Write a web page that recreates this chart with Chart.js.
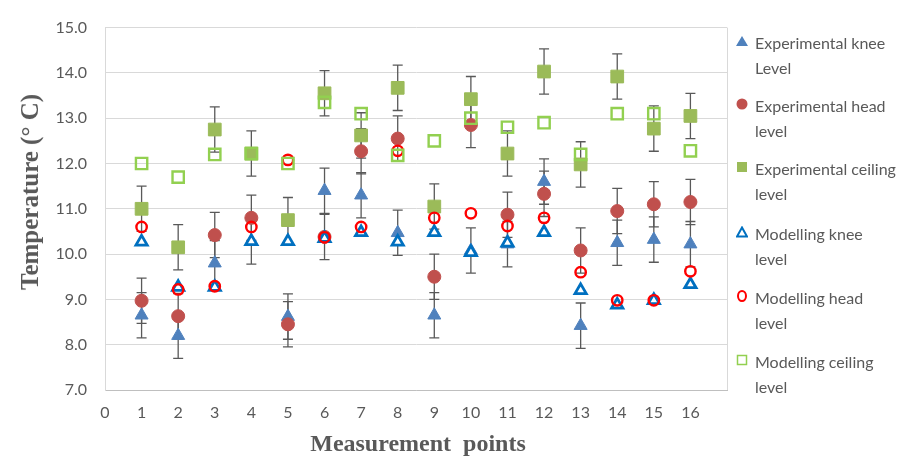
<!DOCTYPE html>
<html>
<head>
<meta charset="utf-8">
<script src="https://cdn.jsdelivr.net/npm/chart.js@4.4.1/dist/chart.umd.min.js"></script>
<style>
  html, body { margin: 0; padding: 0; background: #fff; }
  #wrap { position: relative; width: 915px; height: 459px; overflow: hidden; }
  #c { position: absolute; left: 0; top: 0; }
  .ytitle { position: absolute; left: 30px; top: 192px; transform: translate(-50%, -50%) rotate(-90deg);
    font-family: "Liberation Serif", serif; font-weight: bold; font-size: 25px; color: #595959; white-space: nowrap; }
  .xtitle { position: absolute; left: 418px; top: 443px; transform: translate(-50%, -50%);
    font-family: "Liberation Serif", serif; font-weight: bold; font-size: 24px; color: #595959; white-space: pre; }
  .leg { position: absolute; left: 755px; font-family: Lato, sans-serif; font-size: 16px; line-height: 25px; color: #595959; white-space: nowrap; }
  .leg svg { position: absolute; left: -19px; top: 5px; }
</style>
</head>
<body>
<div id="wrap">
  <canvas id="c" width="915" height="459"></canvas>
  <div class="ytitle">Temperature (° C)</div>
  <div class="xtitle">Measurement  points</div>
  <div id="legend"></div>
</div>
<script>
// ---- data ----
const categories = [1, 2, 3, 4, 5, 6, 7, 8, 9, 10, 11, 12, 13, 14, 15, 16];
const expKnee    = [8.65, 8.20, 9.80, 10.28, 8.62, 11.40, 11.30, 10.47, 8.65, 10.08, 10.22, 11.60, 8.42, 10.25, 10.32, 10.22];
const expHead    = [8.97, 8.63, 10.42, 10.80, 8.45, 10.38, 12.27, 12.55, 9.50, 12.85, 10.87, 11.33, 10.08, 10.95, 11.10, 11.15];
const expCeiling = [11.00, 10.15, 12.75, 12.22, 10.75, 13.55, 12.62, 13.67, 11.05, 13.42, 12.22, 14.03, 11.98, 13.92, 12.77, 13.05];
const modKnee    = [10.27, 9.27, 9.27, 10.28, 10.28, 10.35, 10.48, 10.27, 10.48, 10.04, 10.25, 10.48, 9.20, 8.88, 8.98, 9.33];
const modHead    = [10.60, 9.22, 9.29, 10.60, 12.08, 10.37, 10.60, 12.28, 10.80, 10.90, 10.62, 10.80, 9.60, 8.98, 8.98, 9.62];
const modCeiling = [12.00, 11.70, 12.20, 12.22, 12.00, 13.35, 13.10, 12.18, 12.50, 13.00, 12.80, 12.90, 12.20, 13.10, 13.10, 12.28];
const errKnee    = [0.5, 0.5, 0.5, 0.5, 0.5, 0.5, 0.5, 0.5, 0.5, 0.5, 0.5, 0.5, 0.5, 0.5, 0.5, 0.5];
const errHead    = [0.5, 0.5, 0.5, 0.5, 0.5, 0.5, 0.5, 0.5, 0.5, 0.5, 0.5, 0.5, 0.5, 0.5, 0.5, 0.5];
const errCeiling = [0.5, 0.5, 0.5, 0.5, 0.5, 0.5, 0.5, 0.5, 0.5, 0.5, 0.5, 0.5, 0.5, 0.5, 0.5, 0.5];
const seriesNames = ["Experimental knee|Level", "Experimental head|level", "Experimental ceiling|level",
                     "Modelling knee|level", "Modelling head|level", "Modelling ceiling|level"];
const yTicks = [7, 8, 9, 10, 11, 12, 13, 14, 15];
const xTicks = [0, 1, 2, 3, 4, 5, 6, 7, 8, 9, 10, 11, 12, 13, 14, 15, 16];

const pts = arr => categories.map((c, i) => ({ x: c, y: arr[i] }));

const datasets = [
  { label: seriesNames[0], data: pts(expKnee), pointStyle: 'triangle', pointRadius: 7.5,
    backgroundColor: '#4F81BD', borderColor: '#4F81BD', borderWidth: 1, order: 6, err: errKnee },
  { label: seriesNames[1], data: pts(expHead), pointStyle: 'circle', pointRadius: 6.5,
    backgroundColor: '#C0504D', borderColor: '#C0504D', borderWidth: 1, order: 5, err: errHead },
  { label: seriesNames[2], data: pts(expCeiling), pointStyle: 'rect', pointRadius: 9,
    backgroundColor: '#9BBB59', borderColor: '#9BBB59', borderWidth: 1, order: 4, err: errCeiling },
  { label: seriesNames[3], data: pts(modKnee), pointStyle: 'triangle', pointRadius: 6.5,
    backgroundColor: '#ffffff', borderColor: '#0070C0', borderWidth: 2.8, order: 3 },
  { label: seriesNames[4], data: pts(modHead), pointStyle: 'circle', pointRadius: 5.2,
    backgroundColor: 'rgba(255,255,255,0)', borderColor: '#FF0000', borderWidth: 2.4, order: 2 },
  { label: seriesNames[5], data: pts(modCeiling), pointStyle: 'rect', pointRadius: 8,
    backgroundColor: 'rgba(255,255,255,0)', borderColor: '#92D050', borderWidth: 2.4, order: 1 }
];

const errorBars = {
  id: 'errorBars',
  beforeDatasetsDraw(chart) {
    const ctx = chart.ctx, xs = chart.scales.x, ys = chart.scales.y;
    ctx.save();
    ctx.strokeStyle = '#595959';
    ctx.lineWidth = 1.3;
    chart.data.datasets.forEach(ds => {
      if (!ds.err) return;
      ds.data.forEach((p, i) => {
        const x = xs.getPixelForValue(p.x);
        const yTop = ys.getPixelForValue(p.y + ds.err[i]);
        const yBot = ys.getPixelForValue(p.y - ds.err[i]);
        ctx.beginPath();
        ctx.moveTo(x, yTop); ctx.lineTo(x, yBot);
        ctx.moveTo(x - 5, yTop); ctx.lineTo(x + 5, yTop);
        ctx.moveTo(x - 5, yBot); ctx.lineTo(x + 5, yBot);
        ctx.stroke();
      });
    });
    ctx.restore();
  }
};

new Chart(document.getElementById('c'), {
  type: 'scatter',
  data: { datasets },
  options: {
    responsive: false,
    animation: false,
    events: [],
    layout: { padding: { top: 17, right: 188, left: 0, bottom: 0 } },
    plugins: { legend: { display: false }, tooltip: { enabled: false } },
    scales: {
      x: {
        type: 'linear', min: 0, max: 17,
        afterFit(s) { s.height = 69; },
        afterBuildTicks(s) { s.ticks = xTicks.concat([17]).map(v => ({ value: v })); },
        ticks: { stepSize: 1, padding: 13, color: '#595959', font: { family: 'Lato', size: 16 },
                 callback: v => (v <= 16 ? String(v) : '') },
        grid: { drawTicks: false, color: c => (c.tick && c.tick.value === 17 ? '#d9d9d9' : 'rgba(0,0,0,0)') },
        border: { display: true, color: '#bfbfbf', width: 1 }
      },
      y: {
        min: 7, max: 15,
        afterFit(s) { s.width = 105; },
        afterBuildTicks(s) { s.ticks = yTicks.map(v => ({ value: v })); },
        ticks: { padding: 18, color: '#595959', font: { family: 'Lato', size: 16 },
                 callback: v => Number(v).toFixed(1) },
        grid: { drawTicks: false, color: '#d9d9d9' },
        border: { display: true, color: '#d9d9d9', width: 1 }
      }
    }
  },
  plugins: [errorBars]
});

// ---- HTML legend ----
const legendShapes = [
  '<polygon points="6,1 12,11 0,11" fill="#4F81BD"/>',
  '<circle cx="6" cy="6" r="5.5" fill="#C0504D"/>',
  '<rect x="1" y="1" width="10" height="10" fill="#9BBB59"/>',
  '<polygon points="6,1.5 11,10.5 1,10.5" fill="none" stroke="#0070C0" stroke-width="2"/>',
  '<ellipse cx="6" cy="6" rx="4" ry="5" fill="none" stroke="#FF0000" stroke-width="2"/>',
  '<rect x="1.5" y="1.5" width="9" height="9" fill="none" stroke="#92D050" stroke-width="1.5"/>'
];
const legendTops = [30, 93, 156, 221, 285, 349];
const lg = document.getElementById('legend');
seriesNames.forEach((n, i) => {
  const d = document.createElement('div');
  d.className = 'leg';
  d.style.top = legendTops[i] + 'px';
  const [a, b] = n.split('|');
  d.innerHTML = '<svg width="12" height="12" viewBox="0 0 12 12">' + legendShapes[i] + '</svg>' + a + '<br>' + b;
  lg.appendChild(d);
});
</script>
</body>
</html>
